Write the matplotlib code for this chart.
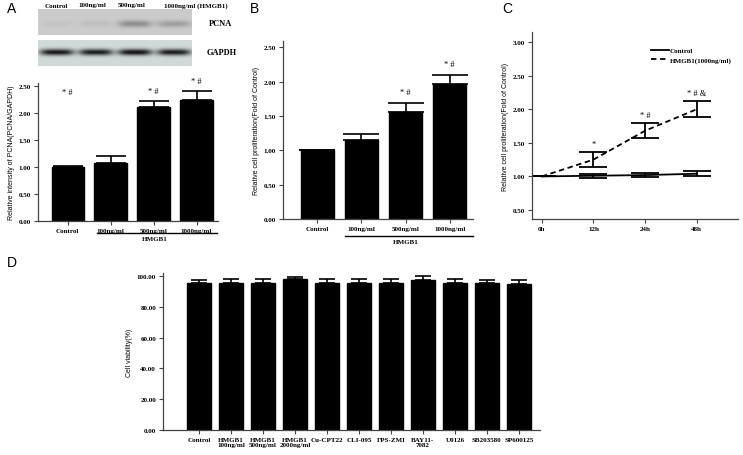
import numpy as np
import matplotlib
matplotlib.use('Agg')
import matplotlib.pyplot as plt
from matplotlib.lines import Line2D

# ---------------- data ----------------
blot_lanes = ['Control', '100ng/ml', '500ng/ml', '1000ng/ml (HMGB1)']
pcna_band = [0.04, 0.06, 0.30, 0.22]
gapdh_band = [0.88, 0.86, 0.90, 0.86]

a_labels = ['Control', '100ng/ml', '500ng/ml', '1000ng/ml']
a_vals = [1.00, 1.08, 2.10, 2.23]
a_err = [0.01, 0.12, 0.12, 0.18]
a_marks = ['', '', '* #', '* #']

b_labels = ['Control', '100ng/ml', '500ng/ml', '1000ng/ml']
b_vals = [1.00, 1.15, 1.55, 1.97]
b_err = [0.01, 0.08, 0.14, 0.13]
b_marks = ['', '', '* #', '* #']

c_times = ['0h', '12h', '24h', '48h']
c_control = [1.00, 1.01, 1.02, 1.04]
c_control_err = [0.0, 0.03, 0.03, 0.04]
c_hmgb1 = [1.00, 1.25, 1.68, 2.00]
c_hmgb1_err = [0.0, 0.11, 0.11, 0.12]
c_marks = ['', '*', '* #', '* # &']

d_labels = ['Control', 'HMGB1\n100ng/ml', 'HMGB1\n500ng/ml', 'HMGB1\n2000ng/ml',
            'Cu-CPT22', 'CLI-095', 'FPS-ZMI', 'BAY11-\n7082', 'U0126',
            'SB203580', 'SP600125']
d_vals = [95.5, 95.8, 95.8, 98.0, 95.3, 95.3, 95.8, 97.5, 95.8, 95.3, 94.8]
d_err = [2.2, 2.2, 2.2, 1.5, 2.5, 2.5, 2.2, 2.5, 2.2, 2.3, 2.5]

# ---------------- layout ----------------
W, H = 743, 456
fig = plt.figure(figsize=(W / 100, H / 100), dpi=100)
SERIF = ['Liberation Serif', 'DejaVu Serif']
SANS = ['Liberation Sans', 'DejaVu Sans']
TFS = 5


def ax_px(l, t, r, b):
    return fig.add_axes([l / W, 1 - b / H, (r - l) / W, (b - t) / H])


def ftext(x, y, s, **kw):
    fig.text(x / W, 1 - y / H, s, **kw)


def fline(x0, x1, y, lw=1.0):
    fig.add_artist(Line2D([x0 / W, x1 / W], [1 - y / H, 1 - y / H], color='black', lw=lw))


def style(ax):
    for s in ['top', 'right']:
        ax.spines[s].set_visible(False)
    for s in ['left', 'bottom']:
        ax.spines[s].set_color('#444444')
        ax.spines[s].set_linewidth(0.9)
    ax.tick_params(length=3, width=0.8, color='#444444', pad=2)
    for lab in ax.get_xticklabels() + ax.get_yticklabels():
        lab.set_fontfamily(SERIF)
        lab.set_fontweight('bold')
        lab.set_fontsize(TFS)
    ax.yaxis.set_major_formatter(plt.FormatStrFormatter('%.2f'))


def bar_panel(ax, labels, vals, err, marks, ylim, cap, ylabel, xl):
    x = np.arange(len(labels))
    ax.bar(x, vals, width=0.75, color='black', edgecolor='black')
    ax.errorbar(x, vals, yerr=[np.zeros(len(err)), err], fmt='none',
                ecolor='black', elinewidth=1.2, capsize=cap, capthick=1.2)
    for xi, v, e, m in zip(x, vals, err, marks):
        if m:
            ax.text(xi, v + e + 0.04 * ylim[1], m, ha='center', va='bottom',
                    fontsize=6, family=SERIF)
    ax.set_xticks(x)
    ax.set_xticklabels(labels)
    ax.set_xlim(*xl)
    ax.set_ylim(*ylim)
    ax.set_ylabel(ylabel, fontsize=5, family=SANS, labelpad=3)
    style(ax)


# ---------------- Panel A: blots ----------------
def blot(l, t, r, b, bands, bg, band_h, yc_frac):
    w, h = r - l, b - t
    img = np.ones((h, w, 3)) * np.array(bg)
    xx = np.arange(w)[None, :]
    yy = np.arange(h)[:, None]
    centers = np.linspace(0.12, 0.88, len(bands)) * w
    dark = np.zeros((h, w))
    for c, inten in zip(centers, bands):
        dark += inten * np.exp(-((xx - c) / (0.11 * w)) ** 4) * \
            np.exp(-((yy - yc_frac * h) / band_h) ** 2)
    img = img * (1 - np.clip(dark, 0, 1))[..., None]
    ax = ax_px(l, t, r, b)
    ax.imshow(np.clip(img, 0, 1), aspect='auto', interpolation='bilinear')
    ax.axis('off')


blot(38, 10, 192, 36, pcna_band, (0.80, 0.80, 0.80), 3.5, 0.55)
blot(38, 41, 192, 67, gapdh_band, (0.82, 0.85, 0.85), 3.2, 0.45)
for xc, lab in zip([56, 92, 132, 196], blot_lanes):
    ftext(xc, 6, lab, ha='center', va='center', fontsize=TFS, family=SERIF, fontweight='bold')
ftext(209, 24, 'PCNA', ha='left', va='center', fontsize=6, family=SERIF, fontweight='bold')
ftext(207, 53, 'GAPDH', ha='left', va='center', fontsize=6, family=SERIF, fontweight='bold')

# ---------------- Panel A: bars ----------------
axA = ax_px(38, 84, 218, 222)
bar_panel(axA, a_labels, a_vals, a_err, a_marks, (0, 2.55), 11,
          'Relative intensity of PCNA(PCNA/GAPDH)', (-0.69, 3.5))
axA.set_yticks([0, 0.5, 1.0, 1.5, 2.0, 2.5])
axA.text(0, 2.38, '* #', ha='center', va='center', fontsize=6, family=SERIF)
fline(97, 217, 234)
ftext(155, 240, 'HMGB1', ha='center', va='center', fontsize=TFS, family=SERIF, fontweight='bold')

# ---------------- Panel B ----------------
axB = ax_px(283, 42, 473, 220)
bar_panel(axB, b_labels, b_vals, b_err, b_marks, (0, 2.59), 13,
          'Relative cell proliferation(Fold of Control)', (-0.78, 3.53))
axB.set_yticks([0, 0.5, 1.0, 1.5, 2.0, 2.5])
fline(345, 473, 237)
ftext(406, 243, 'HMGB1', ha='center', va='center', fontsize=TFS, family=SERIF, fontweight='bold')

# ---------------- Panel C ----------------
axC = ax_px(532, 33, 738, 220)
xc = np.arange(len(c_times))
axC.errorbar(xc, c_control, yerr=c_control_err, color='black', lw=1.3,
             elinewidth=1.3, capsize=10, capthick=1.3)
eb = axC.errorbar(xc, c_hmgb1, yerr=c_hmgb1_err, color='black', lw=1.3,
                  elinewidth=1.3, capsize=10, capthick=1.3)
eb[0].set_dashes([3, 2])
for xi, v, e, m in zip(xc, c_hmgb1, c_hmgb1_err, c_marks):
    if m:
        axC.text(xi, v + e + 0.06, m, ha='center', va='bottom', fontsize=6, family=SERIF)
axC.set_xticks(xc)
axC.set_xticklabels(c_times)
axC.set_xlim(-0.19, 3.8)
axC.set_ylim(0.366, 3.15)
axC.set_yticks([0.5, 1.0, 1.5, 2.0, 2.5, 3.0])
axC.set_ylabel('Relative cell proliferation(Fold of Control)', fontsize=5, family=SANS, labelpad=3)
style(axC)
handles = [Line2D([], [], color='black', lw=1.3),
           Line2D([], [], color='black', lw=1.3, dashes=[3, 2])]
axC.legend(handles, ['Control', 'HMGB1(1000ng/ml)'], loc='upper right',
           bbox_to_anchor=(1.0, 0.95), frameon=False,
           handlelength=2.6, handletextpad=0.1, labelspacing=0.5,
           prop={'family': SERIF, 'weight': 'bold', 'size': 5})

# ---------------- Panel D ----------------
axD = ax_px(163, 274, 540, 431)
xd = np.arange(len(d_labels))
axD.bar(xd, d_vals, width=0.75, color='black', edgecolor='black')
axD.errorbar(xd, d_vals, yerr=[np.zeros(len(d_err)), d_err], fmt='none',
             ecolor='black', elinewidth=1.2, capsize=6, capthick=1.2)
axD.set_xticks(xd)
axD.set_xticklabels(d_labels, linespacing=1.1)
axD.set_xlim(-1.125, 10.66)
axD.set_ylim(0, 102)
axD.set_yticks([0, 20, 40, 60, 80, 100])
axD.set_ylabel('Cell viability(%)', fontsize=5, family=SANS, labelpad=3)
style(axD)
for lab in axD.get_xticklabels():
    lab.set_verticalalignment('top')

# ---------------- panel letters ----------------
for x, y, s in [(7, 9, 'A'), (250, 9, 'B'), (502, 9, 'C'), (7, 263, 'D')]:
    ftext(x, y, s, ha='left', va='center', fontsize=10, family=SANS)

fig.savefig('out.png', dpi=100)
